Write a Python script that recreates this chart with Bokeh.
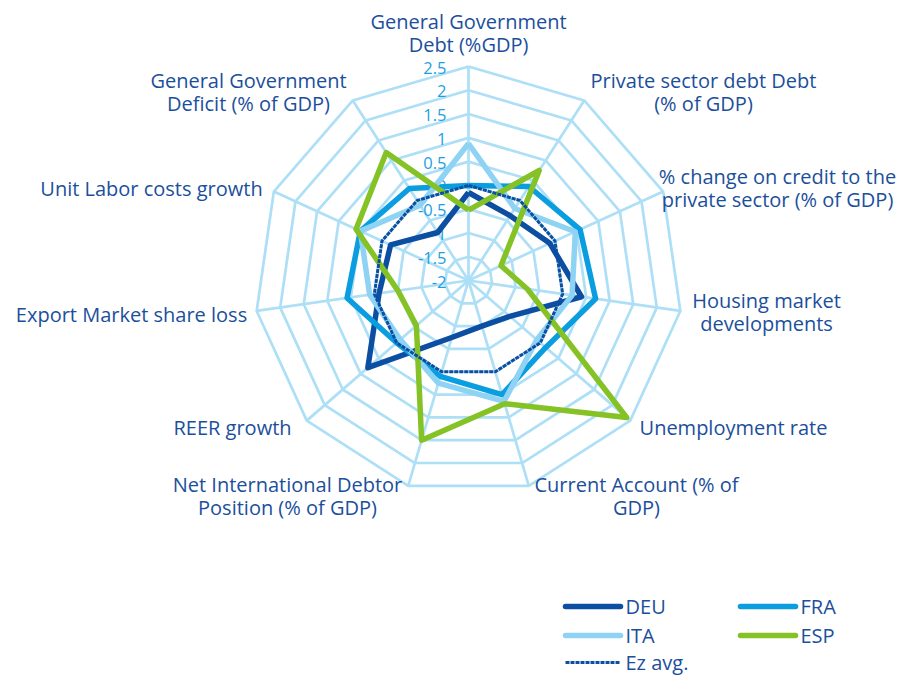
import math
from bokeh.plotting import figure
from bokeh.models import Range1d
from bokeh.core.properties import value
from bokeh.embed import file_html
from bokeh.resources import INLINE

# ---------------- data ----------------
categories = [
    "General Government Debt (%GDP)",
    "Private sector debt Debt (% of GDP)",
    "% change on credit to the private sector (% of GDP)",
    "Housing market developments",
    "Unemployment rate",
    "Current Account (% of GDP)",
    "Net International Debtor Position (% of GDP)",
    "REER growth",
    "Export Market share loss",
    "Unit Labor costs growth",
    "General Government Deficit (% of GDP)",
]
deu = [-0.15, -0.38, -0.12, 0.4, -0.85, -1.0, -0.75, 0.8, -0.1, -0.2, -0.8]
fra = [0.0, 0.35, 0.58, 0.7, 0.15, 0.5, 0.1, 0.0, 0.58, 0.5, 0.3]
ita = [0.88, -0.2, 0.47, 0.2, -0.1, 0.65, 0.25, -0.1, 0.1, 0.5, -0.12]
esp = [-0.52, 0.75, -1.25, -0.75, 2.4, 0.7, 1.5, -0.55, -0.5, 0.6, 1.2]
ez_avg = [0, 0, 0, 0, 0, 0, 0, 0, 0, 0, 0]
tick_values = [-2, -1.5, -1, -0.5, 0, 0.5, 1, 1.5, 2, 2.5]
tick_labels = ["-2", "-1.5", "-1", "-0.5", "0", "0.5", "1", "1.5", "2", "2.5"]
series_names = ["DEU", "FRA", "ITA", "ESP", "Ez avg."]

# ---------------- layout / style ----------------
W, H = 898, 678
CX, CY = 468, 280            # centre of the web in figure pixels
RMIN, RMAX = -2.0, 2.5
PX = 214 / (RMAX - RMIN)     # pixels per value unit
N = len(categories)

FONT = value("Open Sans")
TXT = "#1b4f9c"
TICK = "#1e9fe0"
GRID = "#addff6"
COL = {"DEU": "#0c4ea2", "FRA": "#0a9de0", "ITA": "#8ed3f3", "ESP": "#84c225", "Ez avg.": "#0c4ea2"}


def fpx(xw, yw):
    """figure pixel -> data coordinates"""
    return (xw - CX) / PX, (CY - yw) / PX


def pol(v, k):
    r = v - RMIN
    th = 2 * math.pi * k / N
    return r * math.sin(th), r * math.cos(th)


p = figure(width=W, height=H, output_backend="svg", toolbar_location=None,
           x_axis_type=None, y_axis_type=None, min_border=0,
           x_range=Range1d(-CX / PX, (W - CX) / PX),
           y_range=Range1d(-(H - CY) / PX, CY / PX))
p.outline_line_color = None
p.background_fill_color = "white"

# grid rings
for t in tick_values[1:]:
    pts = [pol(t, k) for k in range(N)] + [pol(t, 0)]
    p.line([a for a, b in pts], [b for a, b in pts], line_color=GRID, line_width=2.7)
# spokes
ends = [pol(RMAX, k) for k in range(N)]
p.segment(x0=[0] * N, y0=[0] * N, x1=[a for a, b in ends], y1=[b for a, b in ends],
          line_color=GRID, line_width=2.7)

# tick labels on top axis
p.text(x=[0] * len(tick_values), y=[t - RMIN for t in tick_values], text=tick_labels,
       text_align="right", text_baseline="middle", x_offset=-22, y_offset=1,
       text_font=FONT, text_font_size="16.5px", text_color=TICK)

# series
data = {"DEU": deu, "FRA": fra, "ITA": ita, "ESP": esp, "Ez avg.": ez_avg}
for name in series_names:
    vals = data[name]
    pts = [pol(v, k) for k, v in enumerate(vals)] + [pol(vals[0], 0)]
    if name == "Ez avg.":
        p.line([a for a, b in pts], [b for a, b in pts], line_color=COL[name],
               line_width=3, line_dash="4 1")
    else:
        p.line([a for a, b in pts], [b for a, b in pts], line_color=COL[name],
               line_width=5.5, line_join="round")

# category labels (figure pixel anchors, centred)
label_lines = [
    ("General Government", 468, 21), ("Debt (%GDP)", 468, 44),
    ("Private sector debt Debt", 703, 80), ("(% of GDP)", 703, 103),
    ("% change on credit to the", 777, 176), ("private sector (% of GDP)", 777, 199),
    ("Housing market", 766, 300), ("developments", 766, 323),
    ("Unemployment rate", 733, 427),
    ("Current Account (% of", 636, 484), ("GDP)", 636, 507),
    ("Net International Debtor", 287, 484), ("Position (% of GDP)", 287, 507),
    ("REER growth", 232, 427),
    ("Export Market share loss", 131, 314),
    ("Unit Labor costs growth", 151, 188),
    ("General Government", 248, 80), ("Deficit (% of GDP)", 248, 103),
]
lx, ly = zip(*[fpx(x, y) for _, x, y in label_lines])
p.text(x=list(lx), y=list(ly), text=[s for s, _, _ in label_lines],
       text_align="center", text_baseline="middle",
       text_font=FONT, text_font_size="20px", text_color=TXT)

# legend
leg_pos = {"DEU": (565, 606), "FRA": (740, 606), "ITA": (565, 635),
           "ESP": (740, 635), "Ez avg.": (565, 662)}
for name in series_names:
    x0, y0 = leg_pos[name]
    a0, b0 = fpx(x0, y0)
    a1, b1 = fpx(x0 + 55, y0)
    if name == "Ez avg.":
        p.line([a0, a1], [b0, b1], line_color=COL[name], line_width=3, line_dash="4 1")
    else:
        p.line([a0, a1], [b0, b1], line_color=COL[name], line_width=5.5, line_cap="round")
    tx, ty = fpx(x0 + 60, y0)
    p.text(x=[tx], y=[ty], text=[name], text_align="left", text_baseline="middle",
           text_font=FONT, text_font_size="20px", text_color=TXT)

open("out.html", "w").write(file_html(p, INLINE))
